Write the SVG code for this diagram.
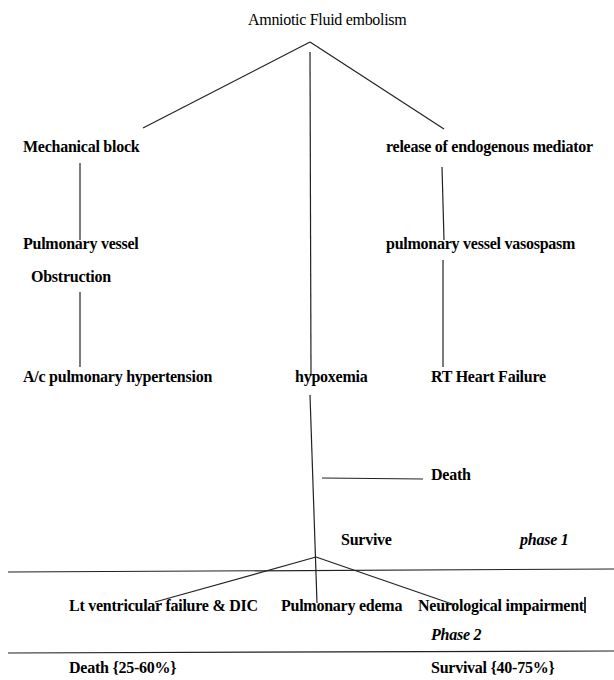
<svg xmlns="http://www.w3.org/2000/svg" width="614" height="680" viewBox="0 0 614 680">
<style>
text{font-family:"Liberation Serif","Times New Roman",serif;font-size:16px;fill:#000}
.t{font-size:16px;letter-spacing:-0.3px}
.b{font-weight:bold;letter-spacing:-0.25px}
.i{font-weight:bold;font-style:italic;letter-spacing:-0.25px}
.c line{stroke:#222;stroke-width:1.2}
</style>
<rect width="614" height="680" fill="#fff"/>
<g id="connectors" class="c">
<line x1="310" y1="42" x2="143" y2="128"/>
<line x1="310" y1="42" x2="444" y2="129"/>
<line x1="310" y1="52" x2="311" y2="376"/>
<line x1="80" y1="163" x2="80" y2="240"/>
<line x1="80" y1="292" x2="80" y2="367"/>
<line x1="442" y1="167" x2="444" y2="240"/>
<line x1="443" y1="260" x2="443" y2="367"/>
<line x1="310" y1="395" x2="317" y2="603"/>
<line x1="322" y1="478" x2="423" y2="479"/>
<line x1="8" y1="572" x2="614" y2="569"/>
<line x1="316" y1="557" x2="155" y2="602"/>
<line x1="316" y1="557" x2="455" y2="605"/>
<line x1="8" y1="653" x2="614" y2="651"/>
<line x1="585" y1="597" x2="585" y2="613" style="stroke:#000;stroke-width:1.6"/>
</g>
<g id="n-afe"><text class="t" x="248" y="25">Amniotic Fluid embolism</text></g>
<g id="n-mech"><text class="b" x="23" y="152">Mechanical block</text></g>
<g id="n-release"><text class="b" x="386" y="152">release of endogenous mediator</text></g>
<g id="n-pvo"><text class="b" x="23" y="249">Pulmonary vessel</text><text class="b" x="31" y="282">Obstruction</text></g>
<g id="n-vaso"><text class="b" x="386" y="249">pulmonary vessel vasospasm</text></g>
<g id="n-acph"><text class="b" x="23" y="382">A/c pulmonary hypertension</text></g>
<g id="n-hypox"><text class="b" x="295" y="382">hypoxemia</text></g>
<g id="n-rthf"><text class="b" x="431" y="382">RT Heart Failure</text></g>
<g id="n-death1"><text class="b" x="431" y="480">Death</text></g>
<g id="n-survive"><text class="b" x="341" y="545">Survive</text></g>
<g id="n-phase1"><text class="i" x="520" y="545">phase 1</text></g>
<g id="n-ltvf"><text class="b" x="69" y="611">Lt ventricular failure &amp; DIC</text></g>
<g id="n-pe"><text class="b" x="281" y="611">Pulmonary edema</text></g>
<g id="n-neuro"><text class="b" x="418" y="611">Neurological impairment</text></g>
<g id="n-phase2"><text class="i" x="431" y="640">Phase 2</text></g>
<g id="n-death2"><text class="b" x="69" y="673">Death {25-60%}</text></g>
<g id="n-surv2"><text class="b" x="431" y="673">Survival {40-75%}</text></g>
</svg>
